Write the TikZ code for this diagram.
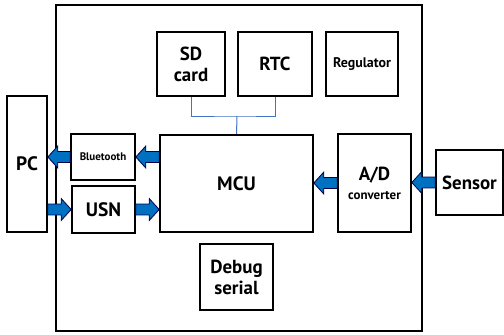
\documentclass[tikz,border=0pt]{standalone}
\usepackage{fontspec}
\setmainfont{PT Sans}
\usepackage{tikz}
\usetikzlibrary{%
  positioning
 ,calc
}
\definecolor{arrblue}{RGB}{0,112,192}
\definecolor{busblue}{RGB}{68,114,196}
\tikzstyle{blk}=[draw=black,line width=1.6bp,fill=white,align=center,font=\bfseries,inner sep=0pt]
\tikzstyle{big}=[font=\bfseries\fontsize{19.5}{22}\selectfont]
\tikzstyle{mid}=[font=\bfseries\fontsize{19}{21}\selectfont]
\tikzstyle{blockarr}=[fill=arrblue,draw=black!70!blue,line width=0.8bp,line join=miter]
\tikzstyle{bus}=[draw=busblue,line width=1bp]

% horizontal block arrow from #1 to #2
\newcommand{\bigarrow}[2]{%
  \filldraw[blockarr] let \p1=(#1), \p2=(#2), \n1={sign(\x2-\x1)} in
    (\x1,{\y1+5.5pt}) -- ({\x2-\n1*10pt},{\y1+5.5pt}) -- ({\x2-\n1*10pt},{\y1+11pt})
    -- (\x2,\y1) -- ({\x2-\n1*10pt},{\y1-11pt}) -- ({\x2-\n1*10pt},{\y1-5.5pt})
    -- (\x1,{\y1-5.5pt}) -- cycle;}

\begin{document}
\begin{tikzpicture}[x=1bp,y=-1bp]
  \useasboundingbox (0,0) rectangle (504,334);
  \node[blk,minimum width=366bp,minimum height=326bp] (board) at (239,168) {};
% 
  \node[blk,big,minimum width=40bp,minimum height=136bp]  (pc)     at (27,164)    {PC};
  \node[blk,minimum width=64bp,minimum height=46bp,font=\bfseries\fontsize{11}{13}\selectfont]
                                                          (bt)     at (103,157)   {Bluetooth};
  \node[blk,big,minimum width=63bp,minimum height=47bp]   (usn)    at (103.5,209.5) {USN};
  \node[blk,big,minimum width=153bp,minimum height=97bp]  (mcu)    at (236.5,183.5) {MCU};
  \node[blk,mid,minimum width=73bp,minimum height=98bp]   (adc)    at (374.5,183)
        {A/D\\[-2bp]{\fontsize{13}{15}\selectfont converter}};
  \node[blk,mid,minimum width=67bp,minimum height=65bp]   (sensor) at (469.5,182.5) {Sensor};
  \node[blk,mid,minimum width=68bp,minimum height=64bp]   (sd)     at (191,64)    {SD\\card};
  \node[blk,mid,minimum width=74bp,minimum height=64bp]   (rtc)    at (275,64)    {RTC};
  \node[blk,minimum width=72bp,minimum height=64bp,font=\bfseries\fontsize{14}{16}\selectfont]
                                                          (reg)    at (362,64)    {Regulator};
  \node[blk,mid,minimum width=73bp,minimum height=66bp]   (dbg)    at (236.5,277) {Debug\\serial};
% 
  \coordinate (junc) at (237,116);
  \draw[bus] (sd.south) |- (junc) -| (rtc.south);
  \draw[bus] (junc) -- (mcu.north);
% 
  \bigarrow{bt.east -| mcu.west}{bt.east}
  \bigarrow{bt.west}{pc.east |- bt.west}
  \bigarrow{pc.east |- usn.west}{usn.west}
  \bigarrow{usn.east}{mcu.west |- usn.east}
  \bigarrow{adc.west}{mcu.east |- adc.west}
  \bigarrow{sensor.west}{adc.east |- sensor.west}

\end{tikzpicture}
\end{document}
